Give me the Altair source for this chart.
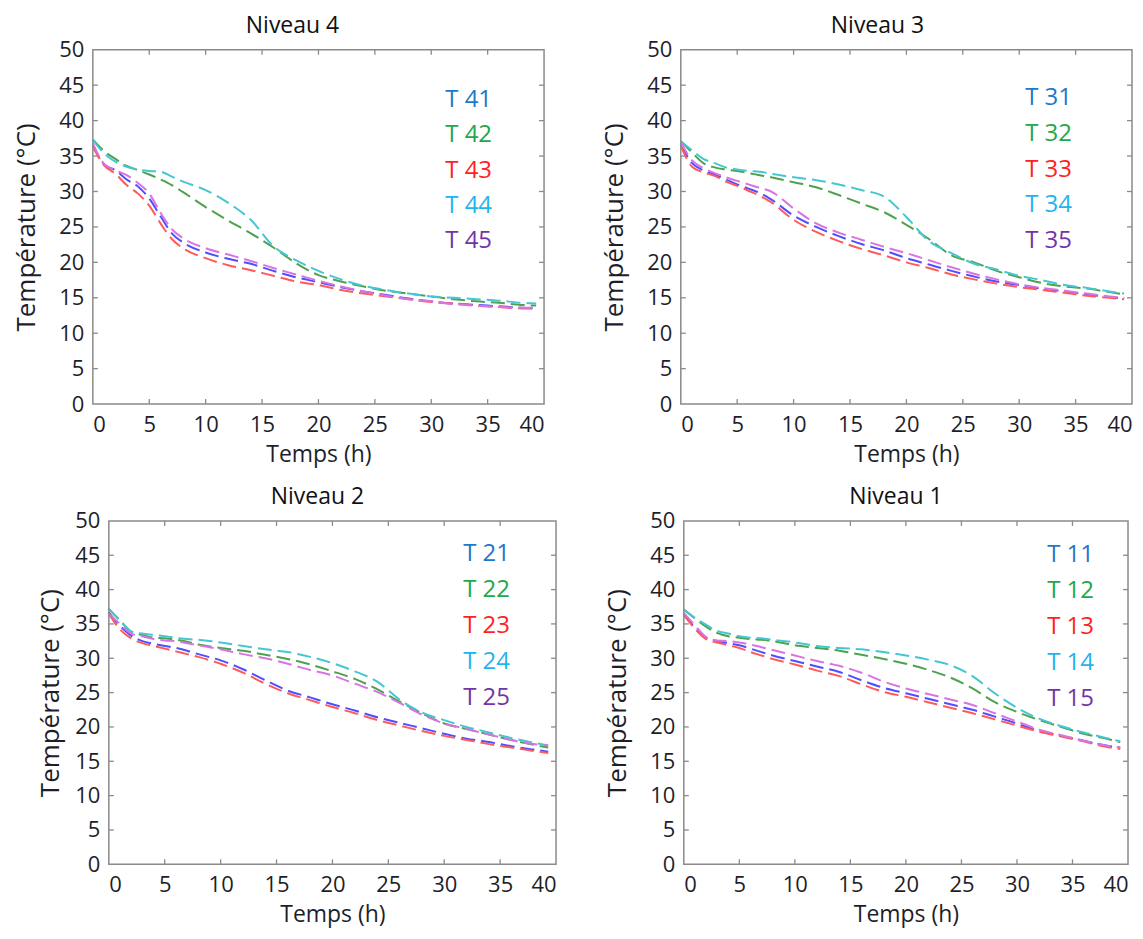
import altair as alt
import pandas as pd

# ---------------- data ----------------
TIME = [0, 1, 2, 3, 4, 5, 6, 7, 8, 10, 12, 14, 16, 18, 20, 22, 24, 26, 28, 30, 32, 34, 36, 38, 39.3]

# Niveau 4
T41 = [36.5, 33.8, 33.0, 31.7, 30.7, 29.0, 26.5, 24.1, 22.8, 21.4, 20.5, 19.8, 18.8, 17.9, 17.2, 16.5, 15.9, 15.4, 14.9, 14.5, 14.2, 14.0, 13.8, 13.6, 13.5]
T42 = [37.3, 35.7, 34.6, 33.6, 33.0, 32.4, 31.7, 30.9, 29.9, 27.8, 25.9, 24.1, 22.1, 19.9, 18.2, 17.3, 16.6, 16.0, 15.6, 15.2, 14.8, 14.5, 14.3, 14.0, 13.9]
T43 = [36.3, 33.7, 32.5, 30.9, 29.7, 28.0, 25.5, 23.3, 22.0, 20.6, 19.6, 18.9, 18.1, 17.3, 16.8, 16.1, 15.6, 15.2, 14.8, 14.4, 14.2, 13.9, 13.7, 13.5, 13.5]
T44 = [37.3, 35.4, 34.2, 33.5, 33.1, 32.9, 32.8, 32.1, 31.4, 30.2, 28.4, 26.0, 22.3, 20.3, 18.8, 17.6, 16.7, 16.1, 15.6, 15.2, 15.0, 14.8, 14.6, 14.3, 14.2]
T45 = [36.8, 33.9, 33.0, 32.3, 31.2, 29.7, 27.0, 24.7, 23.4, 22.0, 21.1, 20.2, 19.2, 18.3, 17.4, 16.6, 15.9, 15.3, 14.8, 14.5, 14.1, 13.9, 13.7, 13.6, 13.6]

# Niveau 3
T31 = [36.6, 34.0, 33.0, 32.4, 31.7, 31.0, 30.4, 29.8, 28.9, 26.6, 25.0, 23.7, 22.6, 21.7, 20.6, 19.7, 18.8, 18.0, 17.3, 16.8, 16.3, 15.9, 15.5, 15.1, 14.9]
T32 = [37.1, 35.5, 34.0, 33.4, 33.1, 32.9, 32.6, 32.3, 32.0, 31.3, 30.6, 29.5, 28.3, 27.1, 25.3, 23.3, 21.0, 20.0, 18.8, 17.9, 17.1, 16.6, 16.3, 15.8, 15.5]
T33 = [36.4, 33.5, 32.7, 32.2, 31.4, 30.8, 30.1, 29.4, 28.5, 26.0, 24.3, 23.0, 21.9, 21.0, 20.0, 19.2, 18.3, 17.6, 17.0, 16.5, 16.1, 15.7, 15.3, 15.0, 14.8]
T34 = [37.1, 35.8, 34.6, 34.0, 33.4, 33.1, 32.9, 32.8, 32.5, 32.0, 31.6, 31.0, 30.2, 29.3, 26.4, 23.0, 21.3, 19.8, 19.0, 18.1, 17.5, 16.8, 16.4, 15.9, 15.6]
T35 = [36.9, 34.4, 33.3, 32.6, 32.0, 31.5, 31.0, 30.5, 30.0, 27.6, 25.5, 24.2, 23.2, 22.2, 21.3, 20.3, 19.3, 18.4, 17.6, 16.9, 16.4, 16.0, 15.6, 15.2, 15.0]

# Niveau 2
T21 = [36.7, 34.7, 33.3, 32.5, 32.1, 31.8, 31.5, 31.1, 30.6, 29.7, 28.4, 26.8, 25.3, 24.3, 23.3, 22.4, 21.4, 20.6, 19.8, 19.0, 18.3, 17.8, 17.2, 16.7, 16.4]
T22 = [37.2, 35.5, 33.9, 33.4, 33.0, 32.9, 32.7, 32.4, 32.0, 31.5, 31.1, 30.5, 29.9, 29.1, 28.1, 27.0, 25.5, 23.7, 22.0, 20.5, 19.7, 18.9, 18.1, 17.4, 17.0]
T23 = [36.5, 34.2, 32.9, 32.2, 31.8, 31.4, 31.0, 30.6, 30.2, 29.2, 27.9, 26.3, 24.9, 23.9, 22.9, 22.0, 21.0, 20.2, 19.4, 18.7, 18.1, 17.5, 17.0, 16.5, 16.2]
T24 = [37.2, 35.5, 33.9, 33.6, 33.4, 33.2, 33.0, 32.8, 32.7, 32.3, 31.8, 31.3, 30.9, 30.2, 29.3, 28.1, 26.6, 24.0, 22.1, 21.0, 20.0, 19.2, 18.4, 17.7, 17.3]
T25 = [36.5, 35.0, 33.6, 33.2, 32.8, 32.6, 32.5, 32.2, 31.9, 31.3, 30.6, 30.0, 29.2, 28.3, 27.5, 26.3, 25.1, 23.5, 21.8, 20.5, 19.7, 18.9, 18.1, 17.5, 17.3]

# Niveau 1
T11 = [36.4, 34.5, 33.0, 32.5, 32.2, 31.9, 31.4, 30.9, 30.4, 29.6, 28.8, 28.0, 26.8, 25.7, 24.9, 24.1, 23.3, 22.5, 21.5, 20.5, 19.4, 18.7, 18.0, 17.3, 17.0]
T12 = [37.1, 35.8, 34.6, 33.7, 33.2, 33.0, 32.8, 32.7, 32.5, 31.9, 31.5, 31.1, 30.5, 29.9, 29.2, 28.3, 27.2, 25.6, 23.6, 22.2, 21.0, 20.0, 19.0, 18.3, 17.8]
T13 = [36.3, 34.3, 32.8, 32.3, 31.9, 31.5, 30.9, 30.4, 29.9, 29.1, 28.2, 27.4, 26.2, 25.1, 24.4, 23.6, 22.8, 22.0, 21.1, 20.2, 19.3, 18.6, 17.9, 17.1, 16.8]
T14 = [37.1, 35.9, 34.9, 34.0, 33.6, 33.2, 33.0, 32.9, 32.7, 32.3, 31.8, 31.5, 31.3, 30.9, 30.4, 29.8, 29.0, 27.4, 24.9, 22.8, 21.2, 20.1, 19.2, 18.4, 17.9]
T15 = [36.6, 34.8, 33.1, 32.6, 32.5, 32.3, 32.0, 31.6, 31.2, 30.4, 29.6, 28.9, 27.9, 26.6, 25.6, 24.8, 24.0, 23.2, 22.0, 20.8, 19.6, 18.8, 18.0, 17.3, 17.0]

TITLES = ["Niveau 4", "Niveau 3", "Niveau 2", "Niveau 1"]
LABELS = [
    ["T 41", "T 42", "T 43", "T 44", "T 45"],
    ["T 31", "T 32", "T 33", "T 34", "T 35"],
    ["T 21", "T 22", "T 23", "T 24", "T 25"],
    ["T 11", "T 12", "T 13", "T 14", "T 15"],
]
SERIES = [
    [T41, T42, T43, T44, T45],
    [T31, T32, T33, T34, T35],
    [T21, T22, T23, T24, T25],
    [T11, T12, T13, T14, T15],
]
X_TICKS = [0, 5, 10, 15, 20, 25, 30, 35, 40]
Y_TICKS = [0, 5, 10, 15, 20, 25, 30, 35, 40, 45, 50]

# ---------------- styles ----------------
LINE_COLORS = ["#4f4fff", "#4ea24e", "#ff5a5a", "#45c6d2", "#d874e2"]
TEXT_COLORS = ["#2277cc", "#22a84a", "#ff2222", "#1eb4ee", "#7434a6"]
FONT = "Open Sans"
FRAME = "#8a8a8a"
INK = "#1e1e2a"
TICK_LEN = 5


def panel(k, w, h, inset, title_dx, legend_x, legend_y, legend_dy, ytitle_pad):
    """w, h: size of the framed plot; inset: empty room left of the frame."""
    W = w + inset
    rows = []
    for lab, vals in zip(LABELS[k], SERIES[k]):
        for t, v in zip(TIME, vals):
            rows.append({"t": t, "temp": v, "s": lab})
    df = pd.DataFrame(rows)
    xsc = alt.Scale(domain=[0, 40], range=[inset, W], nice=False, zero=False)
    ysc = alt.Scale(domain=[0, 50], nice=False, zero=False)
    xax = alt.Axis(
        values=X_TICKS, title="Temps (h)", grid=False, ticks=False, domain=False,
        labelFont=FONT, labelFontSize=22, labelColor=INK, labelPadding=10,
        labelOverlap=False, titleFont=FONT, titleFontSize=23, titleFontWeight="normal",
        titleColor=INK, titlePadding=8, titleX=inset + w / 2)
    yax = alt.Axis(
        values=Y_TICKS, title="Température (°C)", grid=False, ticks=False, domain=False,
        labelFont=FONT, labelFontSize=22, labelColor=INK, labelPadding=9,
        labelOverlap=False, titleFont=FONT, titleFontSize=26, titleFontWeight="normal",
        titleColor=INK, titlePadding=ytitle_pad, offset=-inset)

    lines = alt.Chart(df).mark_line(strokeDash=[14, 6], strokeWidth=2, interpolate="monotone").encode(
        x=alt.X("t:Q", scale=xsc, axis=xax, title="Temps (h)"),
        y=alt.Y("temp:Q", scale=ysc, axis=yax, title="Température (°C)"),
        color=alt.Color("s:N", scale=alt.Scale(domain=LABELS[k], range=LINE_COLORS), legend=None),
    )

    frame = alt.Chart(pd.DataFrame({"f": [0]})).mark_rect(
        fillOpacity=0, stroke=FRAME, strokeWidth=1.5
    ).encode(x=alt.value(inset), x2=alt.value(W), y=alt.value(0), y2=alt.value(h))

    xt = pd.DataFrame({"v": X_TICKS[1:-1]})
    yt = pd.DataFrame({"v": Y_TICKS[1:-1]})
    tick_style = dict(color=FRAME, strokeWidth=1.3)
    X = alt.X("v:Q", scale=xsc, axis=xax, title="Temps (h)")
    Y = alt.Y("v:Q", scale=ysc, axis=yax, title="Température (°C)")
    bottom = alt.Chart(xt).mark_rule(**tick_style).encode(
        x=X, y=alt.value(h), y2=alt.value(h - TICK_LEN))
    top = alt.Chart(xt).mark_rule(**tick_style).encode(
        x=X, y=alt.value(0), y2=alt.value(TICK_LEN))
    left = alt.Chart(yt).mark_rule(**tick_style).encode(
        y=Y, x=alt.value(inset), x2=alt.value(inset + TICK_LEN))
    right = alt.Chart(yt).mark_rule(**tick_style).encode(
        y=Y, x=alt.value(W), x2=alt.value(W - TICK_LEN))

    texts = []
    for i, lab in enumerate(LABELS[k]):
        texts.append(
            alt.Chart(pd.DataFrame({"label": [lab]})).mark_text(
                align="left", baseline="middle", font=FONT, fontSize=24, color=TEXT_COLORS[i]
            ).encode(text="label:N", x=alt.value(inset + legend_x),
                     y=alt.value(legend_y + i * legend_dy))
        )

    return alt.layer(lines, frame, bottom, top, left, right, *texts).properties(
        width=W, height=h,
        title=alt.TitleParams(TITLES[k], font=FONT, fontSize=23, fontWeight="normal",
                              color="#111111", anchor="middle", dx=title_dx + inset / 2, offset=1),
        view=alt.ViewBackground(strokeOpacity=0),
    )


p4 = panel(0, 452, 355, 0, -26, 353, 50, 35.5, 19)
p3 = panel(1, 452, 355, 0, -29, 345, 48, 36, 19)
p2 = panel(2, 448, 344, 16, -15, 355, 33, 36, 11)
p1 = panel(3, 445, 344, 0, -10, 364, 34, 36, 19)

top_row = alt.hconcat(p4, p3, spacing=56)
bottom_row = alt.hconcat(p2, p1, spacing=47)

chart = alt.vconcat(top_row, bottom_row, spacing=20).properties(
    padding={"left": 5, "top": 6, "right": 2, "bottom": 4}
).configure(background="white")

chart.save("out.html", embed_options={"renderer": "svg", "actions": False})
